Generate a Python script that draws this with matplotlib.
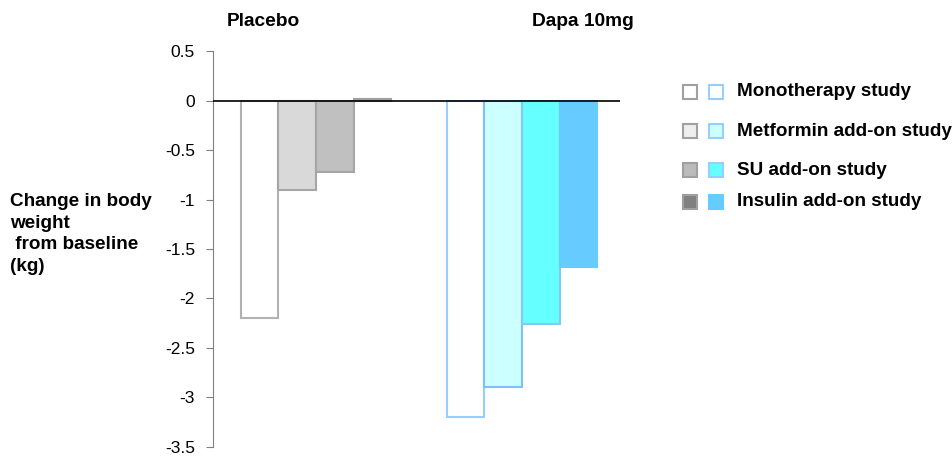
import matplotlib.pyplot as plt
import matplotlib.patches as mpatches
import numpy as np

plt.rcParams['font.family'] = ['Liberation Sans', 'DejaVu Sans']

# change in body weight from baseline (kg)
groups = ['Placebo', 'Dapa 10mg']
studies = ['Monotherapy study', 'Metformin add-on study', 'SU add-on study', 'Insulin add-on study']
placebo = [-2.2, -0.9, -0.72, 0.02]
dapa = [-3.2, -2.9, -2.26, -1.68]
yticks = [0.5, 0, -0.5, -1, -1.5, -2, -2.5, -3, -3.5]

grey_face = ['#ffffff', '#d9d9d9', '#c0c0c0', '#999999']
grey_edge = ['#b2b2b2', '#a6a6a6', '#a6a6a6', '#a0a0a0']
blue_face = ['#ffffff', '#ccffff', '#66ffff', '#66ccff']
blue_edge = ['#99ccff', '#80bfff', '#80c8ff', '#66ccff']
legend_grey = ['#ffffff', '#eeeeee', '#bbbbbb', '#808080']

fig = plt.figure(figsize=(9.53, 4.57), dpi=100)
ax = fig.add_axes([0.2235, 0.0225, 0.427, 0.865])

w = 0.183
x = np.arange(len(groups))
offsets = (np.arange(4) - 1.5) * w
for i in range(4):
    ax.bar(x[0] + offsets[i], placebo[i], w, color=grey_face[i], edgecolor=grey_edge[i], linewidth=1.5)
    ax.bar(x[1] + offsets[i], dapa[i], w, color=blue_face[i], edgecolor=blue_edge[i], linewidth=1.5)

ax.axhline(0, color='black', linewidth=1.2, zorder=5)
ax.set_xlim(-0.5, 1.476)
ax.set_ylim(-3.5, 0.5)
ax.set_yticks(yticks)
ax.set_yticklabels([f'{t:g}' for t in yticks], fontsize=12.5)
ax.set_xticks([])
for s in ['top', 'right', 'bottom']:
    ax.spines[s].set_visible(False)
ax.spines['left'].set_color('#808080')
ax.tick_params(axis='y', direction='out', length=5, color='#808080', pad=8)

fig.text(0.276, 0.954, groups[0], fontsize=13.8, fontweight='bold', ha='center', va='center')
fig.text(0.612, 0.954, groups[1], fontsize=13.8, fontweight='bold', ha='center', va='center')

fig.text(0.011, 0.488, 'Change in body\nweight\n from baseline\n(kg)', fontsize=13.6,
         fontweight='bold', ha='left', va='center', linespacing=1.38)

# legend: grey and blue swatch per study
rows = [0.80, 0.713, 0.628, 0.558]
for i, s in enumerate(studies):
    fig.add_artist(mpatches.Rectangle((0.7165, rows[i] - 0.016), 0.0147, 0.031,
                                      transform=fig.transFigure, facecolor=legend_grey[i],
                                      edgecolor='#a0a0a0', linewidth=1.5))
    fig.add_artist(mpatches.Rectangle((0.7435, rows[i] - 0.016), 0.0147, 0.031,
                                      transform=fig.transFigure, facecolor=blue_face[i],
                                      edgecolor='#99ccff' if i < 3 else blue_face[i], linewidth=1.5))
    fig.text(0.773, rows[i], s, fontsize=13.6, fontweight='bold', ha='left', va='center')

fig.savefig('out.png', dpi=100)
